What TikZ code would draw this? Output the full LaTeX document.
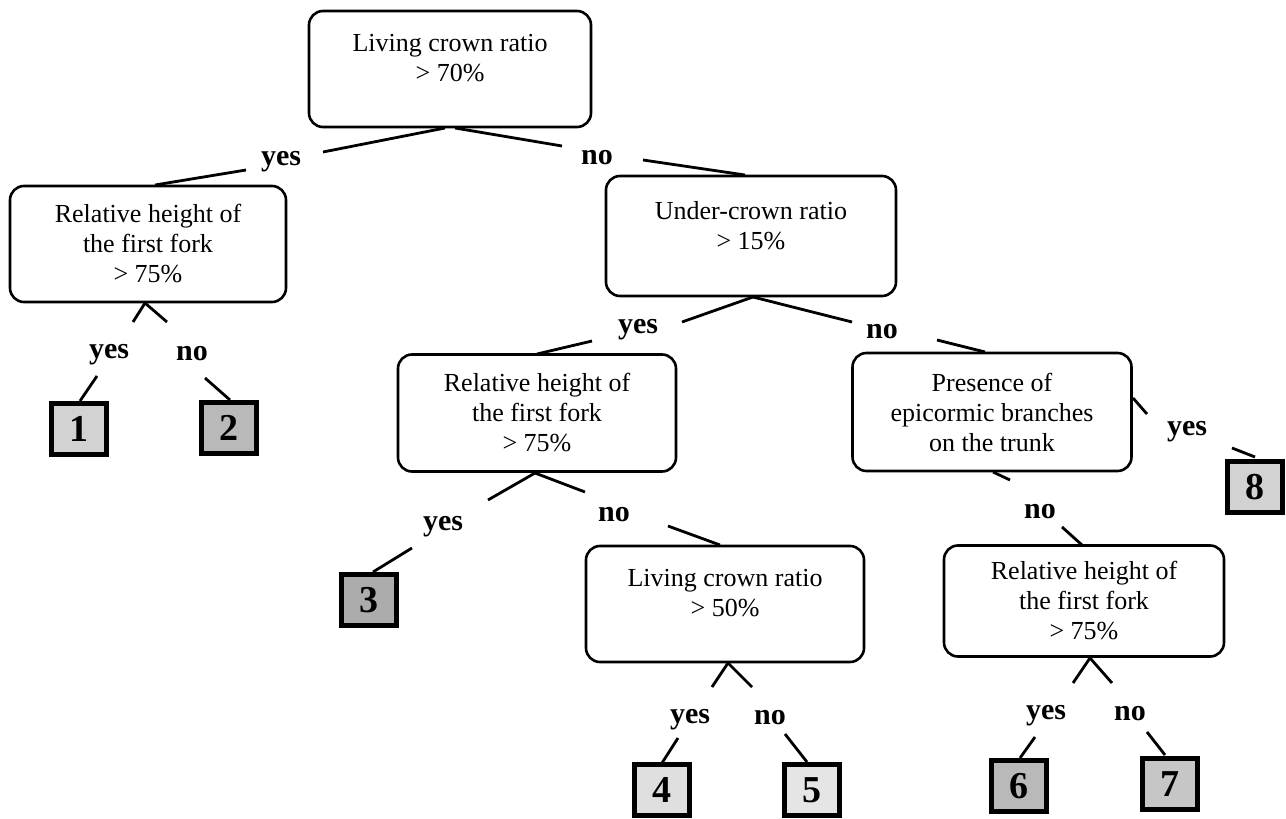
\documentclass[tikz,border=0pt]{standalone}
\usepackage{fontspec}
\setmainfont{Liberation Serif}
\usetikzlibrary{calc}
\begin{document}
\begin{tikzpicture}[x=0.5pt,y=-0.5pt,
  dbox/.style={draw, line width=1.3pt, rounded corners=7pt, align=center, inner sep=0pt,
    font=\fontsize{13}{15}\selectfont},
  lbl/.style={inner sep=0pt, font=\bfseries\fontsize{15}{15}\selectfont},
  leaf/.style={draw, line width=2.4pt, inner sep=0pt, minimum width=27.5pt, minimum height=25.5pt,
    font=\bfseries\fontsize{19}{19}\selectfont},
  conn/.style={line width=1.4pt}]
\useasboundingbox (0,0) rectangle (1286,819);
\fill[white] (0,0) rectangle (1286,819);

% decision boxes
\node[dbox, minimum width=141pt, minimum height=58pt] (R) at (450,69) {Living crown ratio\\> 70\%\\[-4pt]\mbox{}};
\node[dbox, minimum width=145pt, minimum height=60pt] (U) at (751,236) {Under-crown ratio\\> 15\%\\[-4pt]\mbox{}};
\node[dbox, minimum width=138pt, minimum height=58pt] (A) at (148,244) {Relative height of\\the first fork\\> 75\%};
\node[dbox, minimum width=139pt, minimum height=58.5pt] (B) at (537,413) {Relative height of\\the first fork\\> 75\%};
\node[dbox, minimum width=139pt, minimum height=58pt] (C) at (725,604) {Living crown ratio\\> 50\%\\[-4pt]\mbox{}};
\node[dbox, minimum width=139.5pt, minimum height=59pt] (P) at (992,412) {Presence of\\epicormic branches\\on the trunk};
\node[dbox, minimum width=140pt, minimum height=55.5pt] (D) at (1084,601) {Relative height of\\the first fork\\> 75\%};

% leaves
\node[leaf, fill=gray!35] (L1) at (79,429) {1};
\node[leaf, fill=gray!55] (L2) at (229,428) {2};
\node[leaf, fill=gray!65] (L3) at (369,600) {3};
\node[leaf, fill=gray!25] (L4) at (662,790) {4};
\node[leaf, fill=gray!20] (L5) at (812,790) {5};
\node[leaf, fill=gray!55] (L6) at (1019,786) {6};
\node[leaf, fill=gray!45] (L7) at (1170,784) {7};
\node[leaf, fill=gray!35] (L8) at (1255,487) {8};

% labels
\node[lbl] (y1) at (281,162) {yes};
\node[lbl] (n1) at (597,158) {no};
\node[lbl] (y2) at (109,355) {yes};
\node[lbl] (n2) at (192,354) {no};
\node[lbl] (y3) at (638,330) {yes};
\node[lbl] (n3) at (882,332) {no};
\node[lbl] (y4) at (443,527) {yes};
\node[lbl] (n4) at (614,515) {no};
\node[lbl] (y5) at (690,720) {yes};
\node[lbl] (n5) at (770,718) {no};
\node[lbl] (y6) at (1187,432) {yes};
\node[lbl] (n6) at (1040,512) {no};
\node[lbl] (y7) at (1046,716) {yes};
\node[lbl] (n7) at (1130,714) {no};

% connectors
\draw[conn] ($(R)+(-5,59)$) -- ($(y1)+(42,-10)$);
\draw[conn] ($(y1)+(-35,8)$) -- ($(A)+(7,-59)$);
\draw[conn] ($(R)+(5,59)$) -- ($(n1)+(-35,-12)$);
\draw[conn] ($(n1)+(46,2)$) -- ($(U)+(-6,-61)$);

\draw[conn] ($(A)+(-3,59)$) -- ($(y2)+(24,-33)$);
\draw[conn] ($(y2)+(-12,21)$) -- ($(L1)+(1,-28)$);
\draw[conn] ($(A)+(-3,59)$) -- ($(n2)+(-25,-32)$);
\draw[conn] ($(n2)+(13,24)$) -- ($(L2)+(1,-28)$);

\draw[conn] ($(U)+(2,61)$) -- ($(y3)+(44,-8)$);
\draw[conn] ($(y3)+(-46,11)$) -- ($(B)+(0,-59)$);
\draw[conn] ($(U)+(2,61)$) -- ($(n3)+(-30,-10)$);
\draw[conn] ($(n3)+(55,8)$) -- ($(P)+(-7,-60)$);

\draw[conn] ($(B)+(-2,60)$) -- ($(y4)+(45,-27)$);
\draw[conn] ($(y4)+(-31,21)$) -- ($(L3)+(4,-28)$);
\draw[conn] ($(B)+(-2,60)$) -- ($(n4)+(-29,-23)$);
\draw[conn] ($(n4)+(54,11)$) -- ($(C)+(-5,-59)$);

\draw[conn] ($(C)+(3,59)$) -- ($(y5)+(22,-33)$);
\draw[conn] ($(y5)+(-12,18)$) -- ($(L4)+(0,-27)$);
\draw[conn] ($(C)+(3,59)$) -- ($(n5)+(-18,-31)$);
\draw[conn] ($(n5)+(15,16)$) -- ($(L5)+(-5,-28)$);

\draw[conn] ($(P)+(141,-14)$) -- ($(y6)+(-40,-18)$);
\draw[conn] ($(y6)+(45,16)$) -- ($(L8)+(0,-30)$);
\draw[conn] ($(P)+(1,60)$) -- ($(n6)+(-30,-32)$);
\draw[conn] ($(n6)+(22,15)$) -- ($(D)+(-2,-56)$);

\draw[conn] ($(D)+(6,57)$) -- ($(y7)+(27,-33)$);
\draw[conn] ($(y7)+(-11,21)$) -- ($(L6)+(1,-28)$);
\draw[conn] ($(D)+(6,57)$) -- ($(n7)+(-18,-31)$);
\draw[conn] ($(n7)+(17,18)$) -- ($(L7)+(-5,-29)$);
\end{tikzpicture}
\end{document}
